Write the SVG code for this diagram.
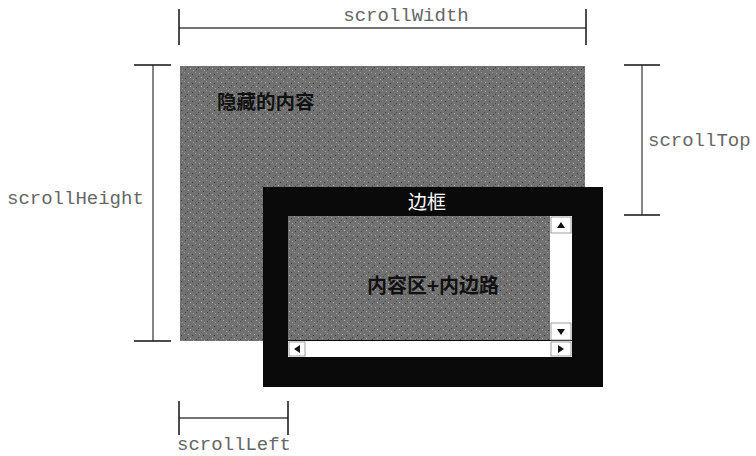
<svg xmlns="http://www.w3.org/2000/svg" width="756" height="456" viewBox="0 0 756 456">
  <defs>
    <pattern id="noise" width="11" height="9" patternUnits="userSpaceOnUse">
      <rect width="11" height="9" fill="#717171"/>
      <rect x="1" y="1" width="1" height="1" fill="#a8a8a8"/>
      <rect x="5" y="2" width="1" height="1" fill="#3a3a3a"/>
      <rect x="8" y="0" width="1" height="1" fill="#9a9a9a"/>
      <rect x="3" y="5" width="1" height="1" fill="#b0b0b0"/>
      <rect x="9" y="6" width="1" height="1" fill="#404040"/>
      <rect x="6" y="7" width="1" height="1" fill="#a0a0a0"/>
      <rect x="0" y="4" width="1" height="1" fill="#484848"/>
    </pattern>
  </defs>
  <style>
    .mono { font-family: "Liberation Mono", "DejaVu Sans Mono", monospace; fill: #666; font-size: 19px; }
    .cjk { font-family: "Noto Sans CJK SC", "Noto Sans", sans-serif; }
    .dim { stroke: #444; stroke-width: 1.3; fill: none; }
    .tick { stroke: #111; stroke-width: 1.5; fill: none; }
    .sbtn { fill: #fff; stroke: #888; stroke-width: 0.8; }
    .arrow { fill: #111; }
  </style>
  <rect width="756" height="456" fill="#fff"/>

  <g id="hidden-content">
    <rect x="180" y="66" width="405" height="275" fill="url(#noise)"/>
    <text x="217" y="109" class="cjk" font-size="19.5" font-weight="bold" fill="#111">隐藏的内容</text>
  </g>

  <g id="border-box">
    <rect x="263" y="187" width="340" height="200" fill="#0a0a0a"/>
    <text x="427" y="209" class="cjk" font-size="19" fill="#fff" text-anchor="middle">边框</text>
  </g>

  <g id="content-area">
    <rect x="288" y="216" width="262" height="124" fill="url(#noise)"/>
    <text x="433" y="293" class="cjk" font-size="20" font-weight="bold" fill="#111" text-anchor="middle">内容区+内边路</text>
  </g>

  <g id="v-scrollbar">
    <rect x="550" y="216" width="22" height="124" fill="#fff"/>
    <rect x="551" y="217" width="20" height="16" class="sbtn"/>
    <polygon points="557,228 565,228 561,222" class="arrow"/>
    <rect x="551" y="323" width="20" height="17" class="sbtn"/>
    <polygon points="557,329 565,329 561,335" class="arrow"/>
  </g>

  <g id="h-scrollbar">
    <rect x="288" y="341" width="284" height="16" fill="#fff"/>
    <rect x="289" y="342" width="16" height="14" class="sbtn"/>
    <polygon points="300,345 300,353 294,349" class="arrow"/>
    <rect x="551" y="342" width="20" height="14" class="sbtn"/>
    <polygon points="558,345 558,353 564,349" class="arrow"/>
  </g>

  <g id="connectors">
    <line x1="179" y1="28" x2="586" y2="28" class="dim"/>
    <line x1="179" y1="9" x2="179" y2="45" class="tick"/>
    <line x1="586" y1="9" x2="586" y2="45" class="tick"/>

    <line x1="153" y1="65" x2="153" y2="341" class="dim"/>
    <line x1="134" y1="65" x2="171" y2="65" class="tick"/>
    <line x1="134" y1="341" x2="171" y2="341" class="tick"/>

    <line x1="642" y1="65" x2="642" y2="215" class="dim"/>
    <line x1="624" y1="65" x2="660" y2="65" class="tick"/>
    <line x1="624" y1="215" x2="660" y2="215" class="tick"/>

    <line x1="179" y1="418" x2="288" y2="418" class="dim"/>
    <line x1="179" y1="401" x2="179" y2="435" class="tick"/>
    <line x1="288" y1="401" x2="288" y2="435" class="tick"/>
  </g>

  <g id="labels">
    <text x="406" y="21" class="mono" text-anchor="middle">scrollWidth</text>
    <text x="7" y="204" class="mono">scrollHeight</text>
    <text x="648" y="146" class="mono">scrollTop</text>
    <text x="177" y="450" class="mono">scrollLeft</text>
  </g>
</svg>
